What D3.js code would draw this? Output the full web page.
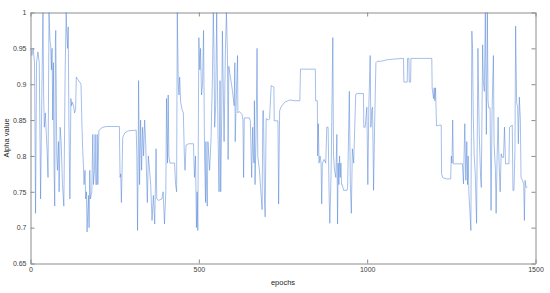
<!DOCTYPE html>
<html>
<head>
<meta charset="utf-8">
<script src="https://cdn.jsdelivr.net/npm/d3@7"></script>
<style>
  body { margin: 0; background: #fff; }
  svg { display: block; font-family: "Liberation Sans", Arial, sans-serif; }
  .axis path, .axis line { stroke: #8c8c8c; }
  .axis text { fill: #404040; font-size: 7px; }
</style>
</head>
<body>
<div id="chart"></div>
<script>
// values (vertices of the trace)
const epochs = [
  1, 4, 8, 12, 15, 18, 22, 26, 30, 34, 37, 39, 41, 44, 47, 50, 52, 55, 58, 60,
  62, 64, 66, 68, 70, 72, 74, 75, 78, 80, 83, 85, 88, 91, 95, 99, 103, 106, 108, 110,
  112, 114, 117, 120, 122, 124, 128, 131, 134, 136, 140, 146, 150, 153, 155, 157, 159, 162, 164, 166,
  168, 170, 172, 174, 176, 178, 182, 185, 187, 190, 192, 194, 196, 198, 200, 203, 208, 215, 225, 240,
  258, 264, 266, 268, 270, 272, 274, 280, 290, 314, 316, 318, 320, 321, 324, 327, 330, 333, 336, 339,
  342, 345, 347, 350, 353, 357, 361, 365, 369, 373, 375, 380, 390, 394, 398, 402, 404, 407, 409, 411,
  414, 420, 428, 431, 434, 436, 439, 441, 443, 446, 450, 454, 457, 459, 462, 470, 484, 487, 490, 493,
  495, 497, 500, 503, 505, 508, 511, 514, 517, 520, 521, 523, 525, 527, 532, 536, 540, 543, 545, 547,
  550, 553, 557, 560, 563, 565, 568, 570, 572, 575, 579, 582, 585, 587, 589, 592, 597, 600, 605, 607,
  608, 611, 615, 616, 620, 628, 631, 633, 635, 650, 653, 657, 660, 662, 664, 665, 667, 670, 673, 675,
  680, 685, 688, 690, 692, 695, 697, 700, 707, 710, 715, 723, 724, 735, 737, 740, 744, 755, 770, 785,
  800, 802, 810, 846, 847, 852, 853, 855, 857, 860, 863, 865, 867, 872, 877, 880, 884, 887, 889, 893,
  898, 900, 903, 907, 910, 912, 914, 916, 918, 920, 922, 924, 926, 930, 940, 942, 947, 950, 953, 956,
  960, 964, 966, 970, 989, 990, 994, 999, 1002, 1005, 1009, 1011, 1014, 1016, 1019, 1022, 1026, 1030, 1042, 1058,
  1078, 1108, 1109, 1119, 1120, 1124, 1125, 1129, 1130, 1192, 1193, 1197, 1199, 1201, 1203, 1206, 1216, 1220, 1221, 1224,
  1235, 1248, 1250, 1252, 1254, 1256, 1260, 1283, 1286, 1290, 1293, 1296, 1298, 1300, 1302, 1305, 1308, 1311, 1313, 1315,
  1318, 1321, 1325, 1329, 1331, 1333, 1337, 1339, 1343, 1345, 1348, 1351, 1354, 1357, 1359, 1361, 1365, 1368, 1371, 1375,
  1377, 1381, 1383, 1386, 1389, 1391, 1395, 1398, 1401, 1405, 1408, 1411, 1421, 1423, 1431, 1433, 1436, 1439, 1441, 1444,
  1447, 1449, 1452, 1455, 1457, 1462, 1465, 1467, 1469, 1472, 1476
]
const alpha = [
  0.95, 0.94, 0.95, 0.93, 0.72, 0.93, 0.945, 0.93, 0.74, 0.90, 1.0, 0.885, 0.84, 0.86, 0.83, 0.80, 0.77, 1.0, 0.96, 0.955,
  0.92, 0.95, 0.85, 0.93, 0.78, 0.73, 0.96, 0.975, 0.80, 0.78, 0.82, 0.75, 0.84, 0.82, 0.76, 0.73, 0.92, 1.0, 0.97, 0.95,
  0.98, 0.85, 0.74, 0.88, 0.87, 0.875, 0.87, 0.86, 0.865, 0.91, 0.907, 0.903, 0.90, 0.84, 0.81, 0.79, 0.76, 0.78, 0.74, 0.75,
  0.694, 0.72, 0.745, 0.70, 0.78, 0.74, 0.75, 0.83, 0.76, 0.78, 0.83, 0.76, 0.76, 0.83, 0.76, 0.835, 0.838, 0.840, 0.841, 0.841,
  0.841, 0.841, 0.77, 0.775, 0.735, 0.78, 0.826, 0.832, 0.835, 0.836, 0.80, 0.696, 0.80, 0.905, 0.76, 0.85, 0.78, 0.84, 0.80, 0.85,
  0.82, 0.77, 0.735, 0.80, 0.785, 0.76, 0.71, 0.745, 0.705, 0.81, 0.74, 0.738, 0.74, 0.75, 0.705, 0.75, 0.88, 0.79, 0.885, 0.80,
  0.79, 0.79, 0.79, 0.76, 0.75, 1.0, 0.90, 0.885, 0.91, 0.875, 0.865, 0.86, 0.80, 0.78, 0.815, 0.817, 0.817, 0.77, 0.80, 0.70,
  0.75, 0.696, 0.965, 0.92, 0.95, 0.885, 0.90, 0.975, 0.80, 0.735, 0.82, 0.76, 0.73, 0.82, 0.78, 0.82, 0.90, 1.0, 0.95, 0.84,
  0.87, 1.0, 0.83, 0.75, 0.905, 0.75, 0.86, 0.974, 0.91, 0.82, 0.95, 1.0, 0.94, 0.795, 0.925, 0.915, 0.90, 0.89, 0.87, 0.93,
  0.82, 0.875, 0.94, 0.86, 0.862, 0.858, 0.85, 0.77, 0.853, 0.853, 0.849, 0.77, 0.84, 0.80, 0.79, 0.877, 0.76, 0.83, 0.95, 0.80,
  0.78, 0.745, 0.725, 0.863, 0.863, 0.74, 0.715, 0.852, 0.850, 0.852, 0.898, 0.896, 0.849, 0.849, 0.733, 0.863, 0.868, 0.875, 0.878, 0.877,
  0.877, 0.921, 0.921, 0.921, 0.877, 0.877, 0.80, 0.845, 0.79, 0.80, 0.79, 0.733, 0.79, 0.795, 0.79, 0.84, 0.84, 0.745, 0.706, 0.78,
  0.965, 0.80, 0.78, 0.77, 0.83, 0.705, 0.79, 0.76, 0.80, 0.77, 0.79, 0.76, 0.76, 0.752, 0.752, 0.756, 0.89, 0.76, 0.72, 0.81,
  0.79, 0.855, 0.886, 0.887, 0.887, 0.84, 0.84, 0.868, 0.76, 0.87, 0.94, 0.84, 0.865, 0.868, 0.752, 0.84, 0.93, 0.932, 0.932, 0.934,
  0.935, 0.936, 0.903, 0.903, 0.936, 0.936, 0.903, 0.903, 0.936, 0.936, 0.895, 0.88, 0.895, 0.877, 0.895, 0.842, 0.843, 0.843, 0.775, 0.770,
  0.768, 0.768, 0.80, 0.79, 0.85, 0.789, 0.789, 0.789, 0.761, 0.845, 0.766, 0.82, 0.76, 0.80, 0.75, 0.724, 0.696, 0.974, 0.95, 0.86,
  0.80, 0.775, 0.706, 0.95, 0.885, 0.83, 0.77, 0.756, 0.955, 0.905, 0.89, 1.0, 0.83, 1.0, 0.877, 0.867, 0.867, 0.724, 0.863, 0.94,
  0.817, 0.78, 0.72, 0.798, 0.854, 0.803, 0.75, 0.803, 0.798, 0.798, 0.84, 0.789, 0.789, 0.84, 0.843, 0.752, 0.752, 0.807, 0.981, 0.874,
  0.868, 0.817, 0.882, 0.85, 0.77, 0.765, 0.761, 0.71, 0.766, 0.756, 0.757
]
const xTicks = [0, 500, 1000, 1500]
const yTicks = [0.65, 0.7, 0.75, 0.8, 0.85, 0.9, 0.95, 1]

let margin = { top: 12.5, right: 14.5, bottom: 29.5, left: 30.5 }
let width = 550 - margin.left - margin.right
let height = 293 - margin.top - margin.bottom

let x = d3.scaleLinear().domain([0, 1500]).range([0, width])
let y = d3.scaleLinear().domain([0.65, 1]).range([height, 0])

let svg = d3.select('#chart')
  .append('svg')
  .attr('width', 550)
  .attr('height', 293)
  .append('g')
  .attr('transform', `translate(${margin.left}, ${margin.top})`)

let points = epochs.map((e, i) => [e, alpha[i]])

svg.append('path')
  .datum(points)
  .attr('fill', 'none')
  .attr('stroke', '#4a7fd4')
  .attr('stroke-width', 0.5)
  .attr('d', d3.line().x((d) => x(d[0])).y((d) => y(d[1])))

// box with inward ticks on all four sides, like matlab
svg.append('g')
  .attr('class', 'axis')
  .attr('transform', `translate(0, ${height})`)
  .call(d3.axisBottom(x).tickValues(xTicks).tickSizeInner(-4).tickSizeOuter(0).tickPadding(4).tickFormat(d3.format('d')))
svg.append('g')
  .attr('class', 'axis')
  .call(d3.axisTop(x).tickValues(xTicks).tickSizeInner(-4).tickSizeOuter(0).tickFormat(''))
svg.append('g')
  .attr('class', 'axis')
  .call(d3.axisLeft(y).tickValues(yTicks).tickSizeInner(-4).tickSizeOuter(0).tickPadding(4).tickFormat(d3.format('')))
svg.append('g')
  .attr('class', 'axis')
  .attr('transform', `translate(${width}, 0)`)
  .call(d3.axisRight(y).tickValues(yTicks).tickSizeInner(-4).tickSizeOuter(0).tickFormat(''))

svg.append('text')
  .attr('x', width / 2)
  .attr('y', height + 21)
  .attr('text-anchor', 'middle')
  .attr('font-size', 7.5)
  .attr('fill', '#262626')
  .text('epochs')

svg.append('text')
  .attr('transform', `translate(${-22}, ${height / 2}) rotate(-90)`)
  .attr('text-anchor', 'middle')
  .attr('font-size', 7.5)
  .attr('fill', '#262626')
  .text('Alpha value')
</script>
</body>
</html>
